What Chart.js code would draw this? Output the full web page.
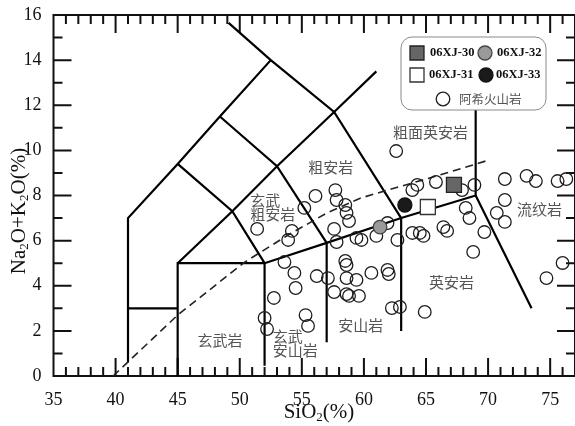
<!DOCTYPE html>
<html>
<head>
<meta charset="utf-8">
<script src="https://cdn.jsdelivr.net/npm/chart.js@4/dist/chart.umd.min.js"></script>
<style>
  html, body { margin: 0; padding: 0; background: #fff; }
  #wrap { width: 575px; height: 426px; }
</style>
</head>
<body>
<div id="wrap"><canvas id="tas" width="575" height="426"></canvas></div>
<script>
// Axis tick labels
const xTicks = [35, 40, 45, 50, 55, 60, 65, 70, 75];
const yTicks = [0, 2, 4, 6, 8, 10, 12, 14, 16];

// 阿希火山岩 (SiO2 %, Na2O+K2O %)
const volcSiO2 = [
  51.4, 54.2, 53.9, 55.2, 56.1, 57.7, 57.8, 58.5, 58.6, 58.8, 57.6, 62.6,
  61.9, 59.4, 59.8, 57.8, 61.0, 62.7, 63.9, 64.3, 65.8, 67.9, 68.9,
  63.9, 64.5, 64.8, 66.4, 66.7, 68.2, 68.5, 69.7, 68.8,
  71.35, 73.1, 73.85, 75.6, 76.3, 71.35, 70.7, 71.35, 76.0, 74.7,
  53.6, 54.4, 54.5, 52.75, 52.0, 52.2, 55.3, 55.5, 56.2, 57.1,
  58.5, 58.6, 58.6, 59.4, 60.6, 61.9, 62.0, 57.6, 58.6, 58.8, 59.6,
  62.25, 62.9, 64.9
];
const volcAlk = [
  6.52, 6.43, 6.03, 7.45, 7.98, 8.24, 7.80, 7.58, 7.23, 6.87, 6.52, 9.97,
  6.78, 6.12, 6.03, 5.94, 6.21, 6.03, 8.24, 8.47, 8.60, 8.24, 8.47,
  6.34, 6.34, 6.21, 6.60, 6.43, 7.45, 7.00, 6.38, 5.50,
  8.73, 8.87, 8.64, 8.64, 8.73, 7.80, 7.23, 6.83, 5.01, 4.34,
  5.05, 4.57, 3.90, 3.46, 2.57, 2.08, 2.70, 2.22, 4.43, 4.34,
  5.10, 4.92, 4.34, 4.26, 4.57, 4.70, 4.52, 3.72, 3.63, 3.55, 3.55,
  3.01, 3.06, 2.84
];

// Studied samples
const sampleNames = ['06XJ-30', '06XJ-31', '06XJ-32', '06XJ-33'];
const sampleSiO2 = [67.25, 65.15, 61.3, 63.3];
const sampleAlk = [8.47, 7.49, 6.60, 7.58];

// TAS field boundaries (SiO2, Na2O+K2O)
const fieldLines = [
  [[41, 0.6], [41, 7], [45, 9.4], [48.4, 11.5], [52.5, 14]],
  [[41, 3], [45, 3]],
  [[45, 0], [45, 5], [52, 5], [57, 5.9], [63, 7], [69, 8]],
  [[45, 5], [49.4, 7.3], [53, 9.3], [57.6, 11.7], [61, 13.5]],
  [[45, 9.4], [49.4, 7.3], [52, 5], [52, 0.45]],
  [[48.4, 11.5], [53, 9.3], [57, 5.9], [57, 1.5]],
  [[49.1, 15.65], [52.5, 14], [57.6, 11.7], [63, 7], [63, 2]],
  [[69, 12], [69, 8], [73.5, 3]]
];

// Alkaline / subalkaline divide
const divideSiO2 = [39.8, 45, 50.4, 53.9, 57, 59.7, 61.9, 65.7, 70];
const divideAlk = [0, 2.7, 5.05, 6.25, 7.22, 7.88, 8.24, 8.84, 9.56];

// Rock names, anchored in data space
const fieldNames = [
  { lines: ['粗面英安岩'], x: 65.37, y: 10.82, align: 'center' },
  { lines: ['粗安岩'], x: 57.33, y: 9.26, align: 'center' },
  { lines: ['玄武', '粗安岩'], x: 50.85, y: 7.8, align: 'left' },
  { lines: ['流纹岩'], x: 74.14, y: 7.40, align: 'center' },
  { lines: ['英安岩'], x: 67.05, y: 4.17, align: 'center' },
  { lines: ['安山岩'], x: 59.74, y: 2.26, align: 'center' },
  { lines: ['玄武岩'], x: 48.4, y: 1.6, align: 'center' },
  { lines: ['玄武', '安山岩'], x: 52.65, y: 1.77, align: 'left' }
];

const SERIF = '"Liberation Serif", "DejaVu Serif", serif';
const CJK = '"Noto Sans CJK SC", sans-serif';

const toPts = (xs, ys) => xs.map((x, i) => ({ x: x, y: ys[i] }));

const sampleStyles = [
  { pointStyle: 'rect', radius: 10.6, bg: '#666666', border: '#222222' },
  { pointStyle: 'rect', radius: 10.6, bg: '#ffffff', border: '#333333' },
  { pointStyle: 'circle', radius: 6.8, bg: '#9a9a9a', border: '#444444' },
  { pointStyle: 'circle', radius: 7, bg: '#1a1a1a', border: '#111111' }
];

const datasets = [];
sampleNames.forEach((name, i) => {
  const s = sampleStyles[i];
  datasets.push({
    label: name,
    data: [{ x: sampleSiO2[i], y: sampleAlk[i] }],
    pointStyle: s.pointStyle,
    pointRadius: s.radius,
    backgroundColor: s.bg,
    borderColor: s.border,
    borderWidth: 1.3,
    order: 0
  });
});
datasets.push({
  label: '阿希火山岩',
  data: toPts(volcSiO2, volcAlk),
  pointStyle: 'circle',
  pointRadius: 6.3,
  backgroundColor: 'rgba(0,0,0,0)',
  borderColor: '#1e1e1e',
  borderWidth: 1.3,
  order: 1
});
datasets.push({
  label: 'divide',
  data: toPts(divideSiO2, divideAlk),
  showLine: true,
  pointRadius: 0,
  borderColor: '#222',
  borderWidth: 1.6,
  borderDash: [8, 5],
  tension: 0,
  fill: false,
  order: 2
});
fieldLines.forEach((ln, i) => {
  datasets.push({
    label: 'field' + i,
    data: ln.map(p => ({ x: p[0], y: p[1] })),
    showLine: true,
    pointRadius: 0,
    borderColor: '#000',
    borderWidth: 2.2,
    tension: 0,
    fill: false,
    order: 2
  });
});

function drawSubText(ctx, parts, size, cx, cy) {
  const big = size + 'px ' + SERIF;
  const small = Math.round(size * 0.6) + 'px ' + SERIF;
  let total = 0;
  parts.forEach(p => { ctx.font = p[1] ? small : big; total += ctx.measureText(p[0]).width; });
  let x = cx - total / 2;
  ctx.textBaseline = 'middle';
  ctx.textAlign = 'left';
  parts.forEach(p => {
    ctx.font = p[1] ? small : big;
    ctx.fillText(p[0], x, cy + (p[1] ? size * 0.28 : 0));
    x += ctx.measureText(p[0]).width;
  });
}

const framePlugin = {
  id: 'tasFrame',
  beforeDatasetsDraw(chart) {
    const { ctx, chartArea: a, scales } = chart;
    const xs = scales.x, ys = scales.y;
    ctx.save();
    ctx.strokeStyle = '#111';
    ctx.lineWidth = 2;
    ctx.strokeRect(a.left, a.top, a.right - a.left, a.bottom - a.top);
    ctx.beginPath();
    for (let v = 36; v < 77; v++) {
      const px = xs.getPixelForValue(v);
      const len = v % 5 === 0 ? 18 : 9;
      ctx.moveTo(px, a.bottom); ctx.lineTo(px, a.bottom - len);
      ctx.moveTo(px, a.top); ctx.lineTo(px, a.top + len);
    }
    for (let v = 1; v < 16; v++) {
      const py = ys.getPixelForValue(v);
      const len = v % 2 === 0 ? 18 : 9;
      ctx.moveTo(a.left, py); ctx.lineTo(a.left + len, py);
      ctx.moveTo(a.right, py); ctx.lineTo(a.right - len, py);
    }
    ctx.stroke();

    // rock names
    ctx.fillStyle = '#555';
    ctx.font = '15px ' + CJK;
    ctx.textBaseline = 'middle';
    fieldNames.forEach(f => {
      ctx.textAlign = f.align;
      const px = xs.getPixelForValue(f.x);
      let py = ys.getPixelForValue(f.y);
      f.lines.forEach(t => { ctx.fillText(t, px, py); py += 14; });
    });

    // axis titles
    ctx.fillStyle = '#111';
    drawSubText(ctx, [['SiO', false], ['2', true], ['(%)', false]], 21, 319, 412);
    ctx.save();
    ctx.translate(19, 211);
    ctx.rotate(-Math.PI / 2);
    drawSubText(ctx, [['Na', false], ['2', true], ['O+K', false], ['2', true], ['O(%)', false]], 21, 0, 0);
    ctx.restore();
    ctx.restore();
  },
  afterDatasetsDraw(chart) {
    const { ctx } = chart;
    ctx.save();
    // legend box
    const bx = 401, by = 37, bw = 145, bh = 73, r = 11;
    ctx.beginPath();
    ctx.moveTo(bx + r, by);
    ctx.arcTo(bx + bw, by, bx + bw, by + bh, r);
    ctx.arcTo(bx + bw, by + bh, bx, by + bh, r);
    ctx.arcTo(bx, by + bh, bx, by, r);
    ctx.arcTo(bx, by, bx + bw, by, r);
    ctx.closePath();
    ctx.fillStyle = '#fff';
    ctx.fill();
    ctx.strokeStyle = '#8a8a8a';
    ctx.lineWidth = 1;
    ctx.stroke();

    const items = [
      { i: 0, mx: 417, my: 53, tx: 430 },
      { i: 2, mx: 485, my: 53, tx: 497 },
      { i: 1, mx: 417, my: 75, tx: 429 },
      { i: 3, mx: 486, my: 75, tx: 496 }
    ];
    items.forEach(it => {
      const s = sampleStyles[it.i];
      ctx.fillStyle = s.bg;
      ctx.strokeStyle = s.border;
      ctx.lineWidth = 1.3;
      ctx.beginPath();
      if (s.pointStyle === 'rect') {
        ctx.rect(it.mx - 7, it.my - 7, 14, 14);
      } else {
        ctx.arc(it.mx, it.my, 7, 0, Math.PI * 2);
      }
      ctx.fill();
      ctx.stroke();
      ctx.fillStyle = '#111';
      ctx.font = 'bold 12.5px ' + SERIF;
      ctx.textAlign = 'left';
      ctx.textBaseline = 'middle';
      ctx.fillText(sampleNames[it.i], it.tx, it.my);
    });
    ctx.strokeStyle = '#1e1e1e';
    ctx.lineWidth = 1.3;
    ctx.beginPath();
    ctx.arc(443, 99, 6.8, 0, Math.PI * 2);
    ctx.stroke();
    ctx.fillStyle = '#555';
    ctx.font = '12.5px ' + CJK;
    ctx.fillText('阿希火山岩', 459, 99);
    ctx.restore();
  }
};

new Chart(document.getElementById('tas'), {
  type: 'scatter',
  data: { datasets: datasets },
  options: {
    responsive: false,
    animation: false,
    devicePixelRatio: 1,
    layout: { autoPadding: false, padding: { top: 15, right: 0, left: 0, bottom: 0 } },
    plugins: { legend: { display: false }, tooltip: { enabled: false }, title: { display: false } },
    scales: {
      x: {
        type: 'linear', min: 35, max: 77,
        afterBuildTicks: s => { s.ticks = xTicks.map(v => ({ value: v })); },
        afterFit: s => { s.height = 50; s.paddingLeft = 0; s.paddingRight = 0; },
        grid: { display: false }, border: { display: false },
        ticks: { color: '#111', font: { family: SERIF, size: 18 }, padding: 5, maxRotation: 0, autoSkip: false }
      },
      y: {
        type: 'linear', min: 0, max: 16,
        afterBuildTicks: s => { s.ticks = yTicks.map(v => ({ value: v })); },
        afterFit: s => { s.width = 53.5; s.paddingTop = 0; s.paddingBottom = 0; },
        grid: { display: false }, border: { display: false },
        ticks: { color: '#111', font: { family: SERIF, size: 18 }, padding: 4, autoSkip: false }
      }
    }
  },
  plugins: [framePlugin]
});
</script>
</body>
</html>
